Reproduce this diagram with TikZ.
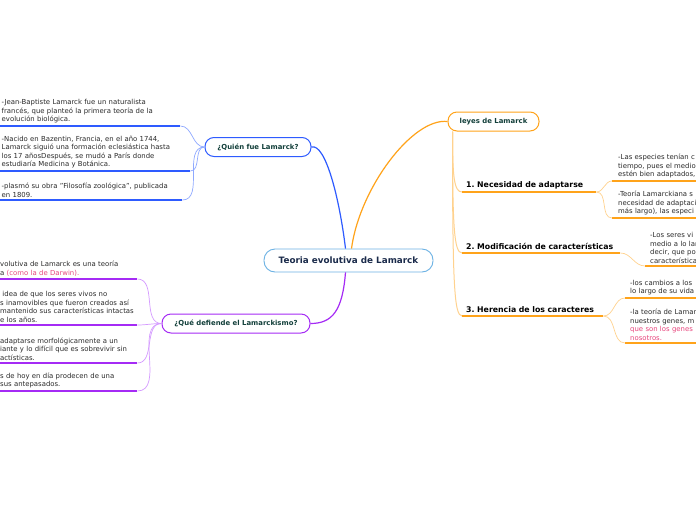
\documentclass[tikz,border=0pt]{standalone}
\usepackage{fontspec}
\setmainfont{DejaVu Sans}
\usetikzlibrary{positioning}
\frenchspacing
\definecolor{azul}{HTML}{2E5BFF}
\definecolor{azulclaro}{HTML}{8FA9FF}
\definecolor{morado}{HTML}{A52BF5}
\definecolor{moradoclaro}{HTML}{D59BFF}
\definecolor{naranja}{HTML}{FFA31A}
\definecolor{naranjaclaro}{HTML}{FFD28E}
\definecolor{bordecentro}{HTML}{6CB2E4}
\definecolor{textocentro}{HTML}{1B2B4B}
\definecolor{textotema}{HTML}{123F3A}
\definecolor{textohoja}{HTML}{2B2B2B}
\definecolor{rosa}{HTML}{E8457D}
\tikzset{
  centro/.style={draw=bordecentro, line width=0.9pt, rounded corners=11pt, fill=white,
    minimum width=169pt, minimum height=23pt, text=textocentro,
    font=\bfseries\fontsize{8.8}{10}\selectfont},
  tema/.style={draw=#1, line width=1pt, rounded corners=9pt, fill=white,
    minimum height=19pt, text=textotema, font=\bfseries\fontsize{6.9}{8}\selectfont},
  hoja/.style={align=left, text width=#1, inner xsep=1.5pt, inner ysep=2.5pt,
    text=textohoja, font=\fontsize{6.9}{8.6}\selectfont},
  titulo/.style={anchor=south west, align=left, text width=#1, inner xsep=4pt, inner ysep=3pt,
    text=black, font=\bfseries\fontsize{7.8}{9}\selectfont},
  raya/.style={draw=#1, line width=1.6pt},
  rama/.style={draw=#1, line width=0.7pt},
  tronco/.style={draw=#1, line width=1pt}
}
\begin{document}
\begin{tikzpicture}[x=1pt,y=-1pt]
\useasboundingbox[fill=white] (0,0) rectangle (696,520);

% centro y temas
\node[centro] (cen) at (348.5,260.5) {Teoria evolutiva de Lamarck};
\node[tema=azul, minimum width=106pt] (quien) at (258,147) {¿Quién fue Lamarck?};
\node[tema=morado, minimum width=148pt] (que) at (236,323.5) {¿Qué defiende el Lamarckismo?};
\node[tema=naranja, minimum width=91pt] (leyes) at (493.5,121.5) {leyes de Lamarck};

\draw[tronco=azul, line width=1.2pt] ([xshift=-3pt]cen.north) .. controls +(-6,-50) and +(14,-4) .. (quien.east);
\draw[tronco=naranja, line width=1.2pt] ([xshift=3pt]cen.north) .. controls +(8,-60) and +(-35,-4) .. (leyes.west);
\draw[tronco=morado, line width=1.2pt] ([xshift=-3pt]cen.south) .. controls +(-3,38) and +(22,0) .. (que.east);

% quien fue Lamarck
\node[hoja=177pt, anchor=south west] (q1) at (0,126) {-Jean-Baptiste Lamarck fue un naturalista\\francés, que planteó la primera teoría de la\\evolución biológica.};
\node[hoja=187pt, anchor=south west] (q2) at (0,171) {-Nacido en Bazentin, Francia, en el año 1744,\\Lamarck siguió una formación eclesiástica hasta\\los 17 añosDespués, se mudó a París donde\\estudiaría Medicina y Botánica.};
\node[hoja=179pt, anchor=south west] (q3) at (0,200) {-plasmó su obra "Filosofía zoológica", publicada\\en 1809.};
\foreach \h in {q1,q2,q3} {
  \draw[raya=azul] (\h.south west) -- (\h.south east);
  \draw[rama=azulclaro] (quien.west) to[out=180,in=0] (\h.south east);
}

% que defiende el Lamarckismo
\node[hoja=137pt, anchor=south west, inner xsep=0pt] (d1) at (0,279) {volutiva de Lamarck es una teoría\\a \textcolor{rosa}{(como la de Darwin).}};
\node[hoja=137pt, anchor=south west, inner xsep=0pt] (d2) at (0,325) {\ idea de que los seres vivos no\\s inamovibles que fueron creados así\\mantenido sus características intactas\\e los años.};
\node[hoja=137pt, anchor=south west, inner xsep=0pt] (d3) at (0,363) {adaptarse morfológicamente a un\\iante y lo difícil que es sobrevivir sin\\actísticas.};
\node[hoja=137pt, anchor=south west, inner xsep=0pt] (d4) at (0,391) {s de hoy en día prodecen de una\\sus antepasados.};
\foreach \h in {d1,d2,d3,d4} {
  \draw[raya=morado] (\h.south west) -- (\h.south east);
  \draw[rama=moradoclaro] (que.west) to[out=180,in=0] (\h.south east);
}

% leyes de Lamarck
\coordinate (raiz) at ([xshift=5pt]leyes.south west);
\node[titulo=126pt] (h1) at (462,192) {1. Necesidad de adaptarse};
\node[titulo=150pt] (h2) at (462,253) {2. Modificación de características};
\node[titulo=133pt] (h3) at (462,316) {3. Herencia de los caracteres};
\draw[tronco=naranjaclaro] (raiz) .. controls +(0,45) and +(-8,0) .. (h1.south west);
\draw[tronco=naranjaclaro] (raiz) .. controls +(0,95) and +(-8,0) .. (h2.south west);
\draw[tronco=naranjaclaro] (raiz) .. controls +(0,150) and +(-8,0) .. (h3.south west);
\foreach \h in {h1,h2,h3}
  \draw[raya=naranja] (\h.south west) -- (\h.south east);

\node[hoja=100pt, anchor=south west, inner xsep=6pt] (a1) at (612,181) {-Las especies tenían c\\tiempo, pues el medio\\estén bien adaptados,};
\node[hoja=100pt, anchor=south west, inner xsep=6pt] (a2) at (612,218) {-Teoría Lamarckiana s\\necesidad de adaptaci\\más largo), las especi};
\node[hoja=60pt, anchor=south west, inner xsep=5pt] (b1) at (645,266) {-Los seres vi\\medio a lo lar\\decir, que po\\característica};
\node[hoja=90pt, anchor=south west, inner xsep=5pt] (c1) at (625,298) {-los cambios a los\\lo largo de su vida};
\node[hoja=90pt, anchor=south west, inner xsep=5pt] (c2) at (625,343) {-la teoría de Lamar\\nuestros genes, m\\\textcolor{rosa}{que son los genes}\\\textcolor{rosa}{nosotros.}};
\foreach \p/\h in {h1/a1,h1/a2,h2/b1,h3/c1,h3/c2} {
  \draw[raya=naranja] (\h.south west) -- (\h.south east);
  \draw[rama=naranjaclaro] (\p.south east) to[out=0,in=180] (\h.south west);
}
\end{tikzpicture}
\end{document}
